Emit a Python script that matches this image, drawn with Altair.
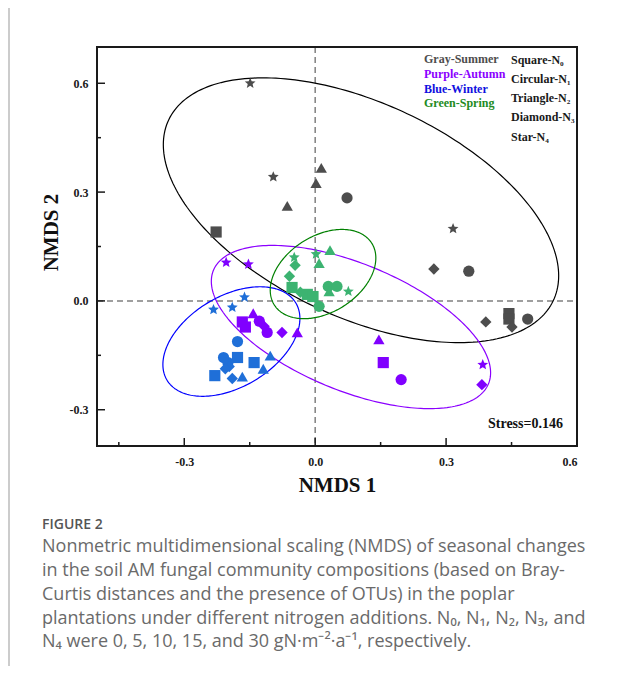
import altair as alt
import numpy as np
import pandas as pd

# ---------------- data ----------------
treatments = ["N0", "N1", "N2", "N3", "N4"]
seasons = ["Summer", "Autumn", "Winter", "Spring"]

summer_t = ["N0", "N0", "N0", "N1", "N1", "N1", "N2", "N2", "N2", "N3", "N3", "N3", "N4", "N4", "N4"]
summer_x = [-0.227, 0.444, 0.444, 0.073, 0.352, 0.487, -0.064, 0.002, 0.014, 0.272, 0.391, 0.451, -0.149, -0.096, 0.316]
summer_y = [0.19, -0.035, -0.05, 0.284, 0.082, -0.05, 0.262, 0.325, 0.367, 0.088, -0.058, -0.072, 0.6, 0.342, 0.199]

autumn_t = ["N0", "N0", "N0", "N1", "N1", "N1", "N2", "N2", "N2", "N3", "N3", "N3", "N4", "N4", "N4"]
autumn_x = [-0.167, -0.160, 0.156, -0.128, -0.110, 0.197, -0.142, -0.041, 0.146, -0.117, -0.076, 0.382, -0.204, -0.153, 0.384]
autumn_y = [-0.058, -0.072, -0.17, -0.056, -0.087, -0.217, -0.034, -0.087, -0.106, -0.07, -0.087, -0.231, 0.106, 0.101, -0.176]

winter_t = ["N0", "N0", "N0", "N1", "N1", "N1", "N2", "N2", "N2", "N3", "N3", "N3", "N4", "N4", "N4"]
winter_x = [-0.178, -0.23, -0.14, -0.178, -0.21, -0.2, -0.167, -0.119, -0.103, -0.197, -0.19, -0.206, -0.233, -0.19, -0.162]
winter_y = [-0.156, -0.206, -0.17, -0.112, -0.156, -0.17, -0.209, -0.187, -0.151, -0.181, -0.214, -0.187, -0.024, -0.018, 0.01]

spring_t = ["N0", "N0", "N0", "N1", "N1", "N1", "N2", "N2", "N2", "N3", "N3", "N3", "N4", "N4", "N4"]
spring_x = [-0.053, -0.018, -0.005, 0.009, 0.03, 0.05, 0.034, 0.009, 0.032, -0.046, -0.059, -0.034, -0.048, 0.002, 0.076]
spring_y = [0.037, 0.018, 0.012, -0.015, 0.04, 0.04, 0.14, 0.104, 0.026, 0.098, 0.068, 0.024, 0.12, 0.129, 0.026]

# ellipse parameters: centre, half-width, half-height, correlation
ell_season = ["Summer", "Autumn", "Winter", "Spring"]
ell_cx = [0.105, 0.082, -0.192, 0.018]
ell_cy = [0.25, -0.072, -0.112, 0.074]
ell_rx = [0.453, 0.320, 0.157, 0.121]
ell_ry = [0.365, 0.225, 0.151, 0.123]
ell_r = [-0.495, -0.56, 0.42, 0.36]

x_major = [-0.3, 0.0, 0.3, 0.6]
x_minor = [-0.45, -0.15, 0.15, 0.45]
y_major = [-0.3, 0.0, 0.3, 0.6]
y_minor = [-0.15, 0.15, 0.45]

legend_seasons = ["Gray-Summer", "Purple-Autumn", "Blue-Winter", "Green-Spring"]
legend_shapes = ["Square-N\u2080", "Circular-N\u2081", "Triangle-N\u2082", "Diamond-N\u2083", "Star-N\u2084"]
stress_label = "Stress=0.146"

caption_head = "FIGURE 2"
caption_lines = [
    "Nonmetric multidimensional scaling (NMDS) of seasonal changes",
    "in the soil AM fungal community compositions (based on Bray-",
    "Curtis distances and the presence of OTUs) in the poplar",
    "plantations under different nitrogen additions. N\u2080, N\u2081, N\u2082, N\u2083, and",
    "N\u2084 were 0, 5, 10, 15, and 30 gN\u00b7m\u207b\u00b2\u00b7a\u207b\u00b9, respectively.",
]

# ---------------- styling ----------------
W, H = 480, 399
point_colors = ["#4D4D4D", "#8000FF", "#1F6FD8", "#3CB371"]
ellipse_colors = ["#000000", "#8B00FF", "#0000FF", "#008000"]
legend_colors = ["#4D4D4D", "#8B00FF", "#1010E0", "#228B22"]
serif = "Liberation Serif"

ang = np.deg2rad(-90 + 36 * np.arange(10))
rad = np.where(np.arange(10) % 2 == 0, 1.0, 0.45)
star_path = "M" + " L".join(f"{r*np.cos(a):.3f},{r*np.sin(a):.3f}" for r, a in zip(rad, ang)) + " Z"
shape_range = ["square", "circle", "triangle-up", "diamond", star_path]
size_range = [125, 130, 150, 150, 210]

# ---------------- tables ----------------
pts = pd.concat([
    pd.DataFrame({"season": s, "treatment": t, "x": xx, "y": yy})
    for s, t, xx, yy in [
        ("Summer", summer_t, summer_x, summer_y),
        ("Autumn", autumn_t, autumn_x, autumn_y),
        ("Winter", winter_t, winter_x, winter_y),
        ("Spring", spring_t, spring_x, spring_y),
    ]
], ignore_index=True)

xs = alt.Scale(domain=[-0.5, 0.6], nice=False, zero=False)
ys = alt.Scale(domain=[-0.4, 0.7], nice=False, zero=False)
lab_expr = "datum.value < 0 ? '-' + format(abs(datum.value), '.1f') : format(datum.value, '.1f')"

layers = []

# dashed zero lines
layers.append(alt.Chart(pd.DataFrame({"v": [0.0]})).mark_rule(color="#808080", strokeWidth=1.5, strokeDash=[6, 4]).encode(
    x=alt.X("v:Q", scale=xs), y=alt.value(0), y2=alt.value(H)))
layers.append(alt.Chart(pd.DataFrame({"v": [0.0]})).mark_rule(color="#808080", strokeWidth=1.5, strokeDash=[6, 4]).encode(
    y=alt.Y("v:Q", scale=ys), x=alt.value(0), x2=alt.value(W)))

# ellipses
tt = np.linspace(0, 2 * np.pi, 241)
for i, s in enumerate(ell_season):
    r = ell_r[i]
    ex = ell_cx[i] + ell_rx[i] * np.cos(tt)
    ey = ell_cy[i] + ell_ry[i] * (r * np.cos(tt) + np.sqrt(1 - r * r) * np.sin(tt))
    d = pd.DataFrame({"x": ex, "y": ey, "t": tt})
    layers.append(alt.Chart(d).mark_line(color=ellipse_colors[i], strokeWidth=1.2).encode(
        x=alt.X("x:Q", scale=xs), y=alt.Y("y:Q", scale=ys), order="t:Q"))

# points
layers.append(alt.Chart(pts).mark_point(filled=True, opacity=1, strokeWidth=0).encode(
    x=alt.X("x:Q", scale=xs,
            axis=alt.Axis(values=x_major, labelExpr=lab_expr, ticks=False, domain=False, grid=False,
                          labelFont=serif, labelFontWeight="bold", labelFontSize=12, labelColor="#1a1a1a",
                          labelPadding=10, title="NMDS 1", titleFont=serif, titleFontSize=21,
                          titleFontWeight="bold", titleColor="#111", titlePadding=7)),
    y=alt.Y("y:Q", scale=ys,
            axis=alt.Axis(values=y_major, labelExpr=lab_expr, ticks=False, domain=False, grid=False,
                          labelFont=serif, labelFontWeight="bold", labelFontSize=12, labelColor="#1a1a1a",
                          labelPadding=9, title="NMDS 2", titleFont=serif, titleFontSize=21,
                          titleFontWeight="bold", titleColor="#111", titlePadding=8, titleY=185)),
    color=alt.Color("season:N", scale=alt.Scale(domain=seasons, range=point_colors), legend=None),
    shape=alt.Shape("treatment:N", scale=alt.Scale(domain=treatments, range=shape_range), legend=None),
    size=alt.Size("treatment:N", scale=alt.Scale(domain=treatments, range=size_range), legend=None),
))

# frame
layers.append(alt.Chart(pd.DataFrame({"v": [0]})).mark_rect(filled=False, stroke="#1a1a1a", strokeWidth=2).encode(
    x=alt.value(0), x2=alt.value(W), y=alt.value(0), y2=alt.value(H)))

# inward ticks
for vals, ln in [(x_major, 8), (x_minor, 4)]:
    layers.append(alt.Chart(pd.DataFrame({"v": vals})).mark_rule(color="#1a1a1a", strokeWidth=1.5).encode(
        x=alt.X("v:Q", scale=xs), y=alt.value(H), y2=alt.value(H - ln)))
for vals, ln in [(y_major, 8), (y_minor, 4)]:
    layers.append(alt.Chart(pd.DataFrame({"v": vals})).mark_rule(color="#1a1a1a", strokeWidth=1.5).encode(
        y=alt.Y("v:Q", scale=ys), x=alt.value(0), x2=alt.value(ln)))

# legend text
leg1 = pd.DataFrame({"txt": legend_seasons, "c": legend_colors, "py": [12, 27, 42, 56]})
layers.append(alt.Chart(leg1).mark_text(align="left", baseline="middle", font=serif, fontWeight="bold", fontSize=12).encode(
    x=alt.value(327), y=alt.Y("py:Q", scale=None), text="txt:N", color=alt.Color("c:N", scale=None)))
leg2 = pd.DataFrame({"txt": legend_shapes, "py": [13, 32, 51, 70, 90]})
layers.append(alt.Chart(leg2).mark_text(align="left", baseline="middle", font=serif, fontWeight="bold", fontSize=12, color="#1a1a1a").encode(
    x=alt.value(414), y=alt.Y("py:Q", scale=None), text="txt:N"))
layers.append(alt.Chart(pd.DataFrame({"txt": [stress_label]})).mark_text(
    align="right", baseline="middle", font=serif, fontWeight="bold", fontSize=14, color="#111").encode(
    x=alt.value(466), y=alt.value(377), text="txt:N"))

# caption
layers.append(alt.Chart(pd.DataFrame({"txt": [caption_head]})).mark_text(
    align="left", baseline="middle", font="Open Sans", fontWeight=600, fontSize=14, color="#555555").encode(
    x=alt.value(-55), y=alt.value(478), text="txt:N"))
cap = pd.DataFrame({"txt": caption_lines, "py": [500, 524, 548, 572, 595]})
layers.append(alt.Chart(cap).mark_text(
    align="left", baseline="middle", font="Open Sans", fontSize=18, color="#6a6a6a").encode(
    x=alt.value(-55), y=alt.Y("py:Q", scale=None), text="txt:N"))

# left page border
layers.append(alt.Chart(pd.DataFrame({"v": [0]})).mark_rule(color="#cccccc", strokeWidth=2).encode(
    x=alt.value(-88), y=alt.value(-47), y2=alt.value(628)))

chart = alt.layer(*layers).properties(
    width=W, height=H,
    background="white",
    autosize=alt.AutoSizeParams(type="none"),
    padding={"left": 89, "top": 39, "right": 32, "bottom": 220},
).configure_view(stroke=None)

chart.save("out.html", embed_options={"renderer": "svg", "actions": False})
